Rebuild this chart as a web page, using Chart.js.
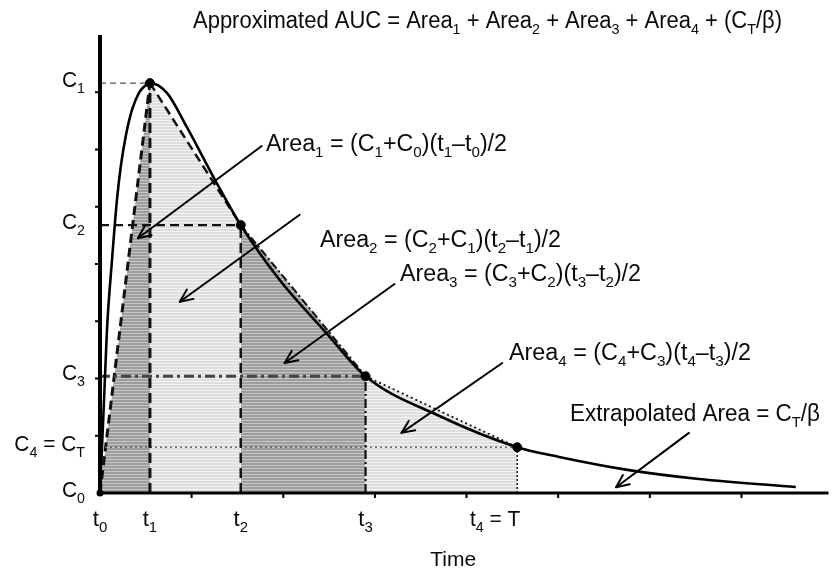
<!DOCTYPE html>
<html><head><meta charset="utf-8">
<script src="https://cdn.jsdelivr.net/npm/chart.js@4/dist/chart.umd.min.js"></script>
<style>html,body{margin:0;padding:0;background:#fff}#wrap{width:834px;height:570px;position:relative}</style>
</head><body><div id="wrap"><canvas id="c" width="834" height="570"></canvas></div>
<script>
// ---------- DATA ----------
const sampleLabels = ['t_0', 't_1', 't_2', 't_3', 't_4 = T'];
const concLabels   = ['C_0', 'C_1', 'C_2', 'C_3', 'C_4 = C_T'];
const sampleTimes  = [0, 0.545, 1.536, 2.898, 4.553];
const sampleConc   = [0, 7.16, 4.68, 2.04, 0.80];
const curveTimes = [0, 0.011, 0.044, 0.076, 0.131, 0.185, 0.229, 0.283, 0.349, 0.425, 0.490, 0.545, 0.730, 0.948, 1.275, 1.536, 1.961, 2.473, 2.898, 3.704, 4.553, 5.011, 5.773, 6.536, 7.593];
const curveConc  = [0, 0.40, 1.62, 2.85, 4.07, 5.12, 5.73, 6.25, 6.69, 6.99, 7.11, 7.16, 6.99, 6.39, 5.41, 4.68, 3.72, 2.79, 2.04, 1.345, 0.80, 0.63, 0.40, 0.245, 0.105];
const titleText = 'Approximated AUC = Area_1 + Area_2 + Area_3 + Area_4 + (C_T/β)';
const areaTexts = ['Area_1 = (C_1+C_0)(t_1–t_0)/2', 'Area_2 = (C_2+C_1)(t_2–t_1)/2', 'Area_3 = (C_3+C_2)(t_3–t_2)/2', 'Area_4 = (C_4+C_3)(t_4–t_3)/2', 'Extrapolated Area = C_T/β'];
const xAxisTitle = 'Time';

// ---------- LAYOUT (annotation placement) ----------
const arrows = [ // [fromX, fromY, toX, toY] in data units
  [1.765, 6.06, 0.414, 4.45],
  [2.179, 4.86, 0.871, 3.34],
  [3.214, 3.65, 2.015, 2.27],
  [4.390, 2.27, 3.290, 1.05],
  [6.427, 1.05, 5.632, 0.10]
];
// text: [left px, baseline px, target width px]
const areaTextPos = [[266, 151, 241], [320, 247, 241], [400, 281, 241], [509, 360, 242], [570, 421, 250]];
const titlePos = [193, 28, 589];

function hatch(base, line) {
  const c = document.createElement('canvas'); c.width = 8; c.height = 3;
  const x = c.getContext('2d');
  x.fillStyle = base; x.fillRect(0, 0, 8, 3);
  x.fillStyle = line; x.fillRect(0, 0, 8, 1);
  return x.createPattern(c, 'repeat');
}
const darkFill = hatch('#9e9e9e', '#c6c6c6');
const lightFill = hatch('#dedede', '#f3f3f3');

const pts = sampleTimes.map((t, i) => ({x: t, y: sampleConc[i]}));
const seg = (a, b) => [pts[a], pts[b]];

const chordStyles = [
  {dash: [9, 5], w: 3, fill: darkFill},
  {dash: [9, 5], w: 2.5, fill: lightFill},
  {dash: [8, 3, 2, 3], w: 2, fill: darkFill},
  {dash: [2, 3], w: 1.8, fill: lightFill}
];
const datasets = [];
for (let i = 0; i < 4; i++) {
  const s = chordStyles[i];
  datasets.push({type: 'line', data: seg(i, i + 1), fill: 'origin', backgroundColor: s.fill,
    borderColor: '#111', borderWidth: s.w, borderDash: s.dash, pointRadius: 0, order: 10, tension: 0});
}
const hStyles = [
  {dash: [6, 4], w: 1.2, c: '#555'},
  {dash: [9, 5], w: 2.2, c: '#111'},
  {dash: [10, 4, 3, 4], w: 3, c: '#444'},
  {dash: [2, 3], w: 1.5, c: '#666'}
];
const vStyles = [
  {dash: [10, 5], w: 3, c: '#111'},
  {dash: [10, 5], w: 2.5, c: '#111'},
  {dash: [9, 3, 2, 3], w: 2.2, c: '#111'},
  {dash: [2, 2], w: 1.6, c: '#222'}
];
for (let i = 1; i <= 4; i++) {
  const h = hStyles[i - 1], v = vStyles[i - 1];
  datasets.push({type: 'line', data: [{x: 0, y: sampleConc[i]}, {x: sampleTimes[i], y: sampleConc[i]}],
    borderColor: h.c, borderWidth: h.w, borderDash: h.dash, pointRadius: 0, fill: false, order: 5});
  datasets.push({type: 'line', data: [{x: sampleTimes[i], y: 0}, {x: sampleTimes[i], y: sampleConc[i]}],
    borderColor: v.c, borderWidth: v.w, borderDash: v.dash, pointRadius: 0, fill: false, order: 5});
}
datasets.push({type: 'line', data: curveTimes.map((t, i) => ({x: t, y: curveConc[i]})),
  borderColor: '#000', borderWidth: 2.6, pointRadius: 0, fill: false, cubicInterpolationMode: 'monotone', order: 2});
datasets.push({type: 'line', data: pts.slice(1), showLine: false, pointRadius: 4.5,
  pointBackgroundColor: '#000', pointBorderColor: '#000', fill: false, order: 1});

const FONT = '"Liberation Sans", Arial, sans-serif';
function parseRich(s) {
  const segs = []; let buf = '';
  for (let i = 0; i < s.length; i++) {
    if (s[i] === '_') { if (buf) { segs.push({t: buf, sub: false}); buf = ''; } segs.push({t: s[i + 1], sub: true}); i++; }
    else buf += s[i];
  }
  if (buf) segs.push({t: buf, sub: false});
  return segs;
}
function drawRich(ctx, s, x, y, o) {
  const fs = o.size || 22, ss = Math.round(fs * 0.66);
  const segs = parseRich(s);
  let w = 0;
  segs.forEach(g => { ctx.font = (g.sub ? ss : fs) + 'px ' + FONT; g.w = ctx.measureText(g.t).width; w += g.w; });
  const sx = o.width ? o.width / w : (o.sx || 1);
  let left = x;
  if (o.align === 'center') left = x - w * sx / 2;
  else if (o.align === 'right') left = x - w * sx;
  ctx.save();
  ctx.translate(left, y); ctx.scale(sx, 1);
  ctx.fillStyle = '#0a0a0a'; ctx.textBaseline = 'alphabetic'; ctx.textAlign = 'left';
  let cx = 0;
  segs.forEach(g => {
    ctx.font = (g.sub ? ss : fs) + 'px ' + FONT;
    ctx.fillText(g.t, cx, g.sub ? fs * 0.26 : 0);
    cx += g.w;
  });
  ctx.restore();
}
function arrow(ctx, x1, y1, x2, y2) {
  ctx.save();
  ctx.strokeStyle = '#000'; ctx.lineWidth = 2; ctx.lineCap = 'round'; ctx.lineJoin = 'round';
  ctx.beginPath(); ctx.moveTo(x1, y1); ctx.lineTo(x2, y2); ctx.stroke();
  const a = Math.atan2(y2 - y1, x2 - x1), L = 14, sp = 0.42;
  ctx.beginPath();
  ctx.moveTo(x2 - L * Math.cos(a - sp), y2 - L * Math.sin(a - sp));
  ctx.lineTo(x2, y2);
  ctx.lineTo(x2 - L * Math.cos(a + sp), y2 - L * Math.sin(a + sp));
  ctx.stroke();
  ctx.restore();
}

const overlay = {
  id: 'overlay',
  afterDatasetsDraw(chart) {
    const ctx = chart.ctx, xs = chart.scales.x, ys = chart.scales.y, ca = chart.chartArea;
    ctx.save();
    ctx.strokeStyle = '#000';
    ctx.lineWidth = 4; ctx.beginPath(); ctx.moveTo(ca.left, ca.top); ctx.lineTo(ca.left, ca.bottom + 1); ctx.stroke();
    ctx.lineWidth = 3; ctx.beginPath(); ctx.moveTo(ca.left - 2, ca.bottom); ctx.lineTo(ca.right, ca.bottom); ctx.stroke();
    ctx.lineWidth = 2;
    for (let k = 1; k <= 7; k++) {
      const py = ys.getPixelForValue(k);
      ctx.beginPath(); ctx.moveTo(ca.left - 5, py); ctx.lineTo(ca.left, py); ctx.stroke();
      const px = xs.getPixelForValue(k);
      ctx.beginPath(); ctx.moveTo(px, ca.bottom); ctx.lineTo(px, ca.bottom + 5); ctx.stroke();
    }
    ctx.fillStyle = '#000'; ctx.beginPath(); ctx.arc(ca.left, ca.bottom, 3.5, 0, Math.PI * 2); ctx.fill();
    arrows.forEach(a => arrow(ctx, xs.getPixelForValue(a[0]), ys.getPixelForValue(a[1]), xs.getPixelForValue(a[2]), ys.getPixelForValue(a[3])));
    drawRich(ctx, titleText, titlePos[0], titlePos[1], {width: titlePos[2], size: 23});
    areaTexts.forEach((t, i) => drawRich(ctx, t, areaTextPos[i][0], areaTextPos[i][1], {width: areaTextPos[i][2], size: 23}));
    concLabels.forEach((t, i) => drawRich(ctx, t, ca.left - 15, ys.getPixelForValue(sampleConc[i]) + 4, {align: 'right', size: 22, sx: 0.95}));
    sampleLabels.forEach((t, i) => {
      const px = xs.getPixelForValue(sampleTimes[i]);
      if (i === 4) drawRich(ctx, t, px + 3, ca.bottom + 33, {align: 'right', size: 22, sx: 0.95});
      else drawRich(ctx, t, px, ca.bottom + 33, {align: 'center', size: 22});
    });
    drawRich(ctx, xAxisTitle, (ca.left + ca.right) / 2 - 11, ca.bottom + 73, {align: 'center', size: 21});
    ctx.restore();
  }
};

new Chart(document.getElementById('c'), {
  type: 'line',
  data: {datasets},
  options: {
    responsive: false, devicePixelRatio: 1, animation: false,
    layout: {padding: {left: 100, top: 35, right: 4, bottom: 77}},
    plugins: {legend: {display: false}, tooltip: {enabled: false}},
    scales: {
      x: {type: 'linear', min: 0, max: 7.95, display: false},
      y: {type: 'linear', min: 0, max: 8, display: false}
    }
  },
  plugins: [overlay]
});
</script>
</body></html>
